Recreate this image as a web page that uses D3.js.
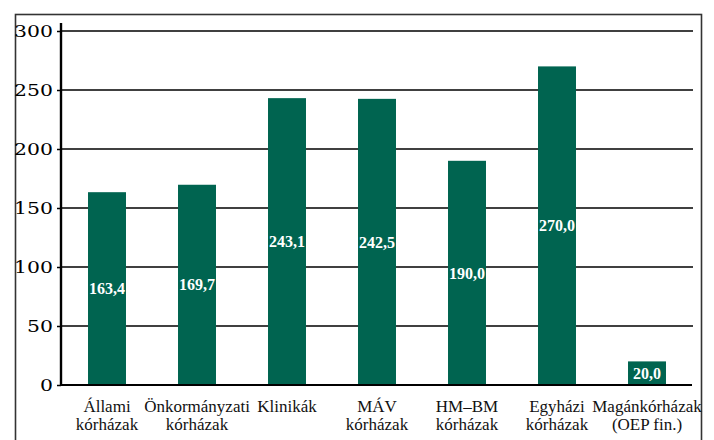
<!DOCTYPE html>
<html><head><meta charset="utf-8">
<script src="https://cdn.jsdelivr.net/npm/d3@7"></script>
<style>body{margin:0;background:#fff}svg{display:block}</style>
</head><body>
<script>
const categories = ["Állami\nkórházak","Önkormányzati\nkórházak","Klinikák","MÁV\nkórházak","HM–BM\nkórházak","Egyházi\nkórházak","Magánkórházak\n(OEP fin.)"];
const values = [163.4,169.7,243.1,242.5,190.0,270.0,20.0];
const yTicks = [0,50,100,150,200,250,300];

const W=714,H=440;
const svg=d3.select("body").append("svg").attr("width",W).attr("height",H);
// frame
svg.append("rect").attr("x",15.5).attr("y",14.5).attr("width",686).attr("height",440)
  .attr("fill","none").attr("stroke","#333").attr("stroke-width",1.6);

const x=d3.scaleBand().domain(categories).range([62,692]).paddingInner(0.578).paddingOuter(0.289);
const y=d3.scaleLinear().domain([0,300]).range([385,31]);

// gridlines
svg.append("g").selectAll("line").data(yTicks.filter(d=>d>0)).join("line")
  .attr("x1",61).attr("x2",693).attr("y1",d=>y(d)).attr("y2",d=>y(d))
  .attr("stroke","#000").attr("stroke-width",1.4);

// bars
svg.append("g").selectAll("rect").data(values).join("rect")
  .attr("x",(d,i)=>x(categories[i])).attr("width",x.bandwidth())
  .attr("y",d=>y(d)).attr("height",d=>y(0)-y(d)).attr("fill","#006450");

// value labels
const fmt=d=>d3.format(".1f")(d).replace(".",",");
svg.append("g").selectAll("text").data(values).join("text")
  .attr("x",(d,i)=>x(categories[i])+x.bandwidth()/2)
  .attr("y",d=>(y(d)+y(0))/2).attr("dy","0.35em")
  .attr("text-anchor","middle").attr("fill","#fff")
  .style("font-family","'Liberation Serif',serif").style("font-weight","bold").style("font-size","16px")
  .text(fmt);

// y axis
const ya=d3.axisLeft(y).tickValues(yTicks).tickSize(4).tickPadding(0).tickFormat(d3.format("d"));
const g=svg.append("g").attr("transform","translate(61,0)").call(ya);
g.select(".domain").remove();
g.selectAll(".tick line").attr("stroke","#000").attr("stroke-width",1.5);
g.selectAll(".tick text").attr("x",-8/1.2).attr("transform","scale(1.2,1)")
  .style("font-family","'DejaVu Serif',serif").style("font-size","17px").attr("fill","#000");
svg.append("line").attr("x1",61).attr("x2",61).attr("y1",23).attr("y2",386)
  .attr("stroke","#000").attr("stroke-width",2.4);
svg.append("line").attr("x1",60).attr("x2",692).attr("y1",385).attr("y2",385)
  .attr("stroke","#000").attr("stroke-width",2.2);

// category labels
const cl=svg.append("g").selectAll("text").data(categories).join("text")
  .attr("text-anchor","middle").attr("fill","#111")
  .style("font-family","'Liberation Serif',serif").style("font-size","17px");
cl.each(function(d){
  const t=d3.select(this), cx=x(d)+x.bandwidth()/2;
  d.split("\n").forEach((s,k)=>t.append("tspan").attr("x",cx).attr("y",412+k*17.5).text(s));
});
</script>
</body></html>
